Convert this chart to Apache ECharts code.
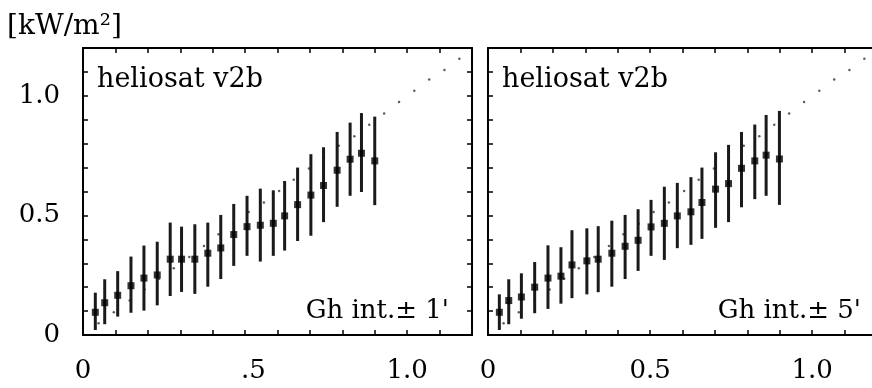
<!DOCTYPE html>
<html lang="en">
<head>
    <meta charset="UTF-8">
    <title>heliosat v2b</title>
    <style>
        html,
        body {
            margin: 0;
            padding: 0;
            background: #fff;
        }

        #chart {
            width: 872px;
            height: 388px;
        }
    </style>
</head>
<body>
<div id="chart"></div>
<script src="https://cdn.jsdelivr.net/npm/echarts@6/dist/echarts.min.js"></script>
<script>
    // reference points (dotted diagonal), same in both panels
    const refX = [0.048, 0.095, 0.144, 0.19, 0.235, 0.28, 0.328, 0.373, 0.418, 0.465, 0.511, 0.558, 0.605,
        0.65, 0.697, 0.743, 0.789, 0.837, 0.883, 0.929, 0.975, 1.022, 1.068, 1.115, 1.161]
    const refY = [0.049, 0.095, 0.144, 0.19, 0.235, 0.279, 0.326, 0.372, 0.421, 0.465, 0.514, 0.554, 0.602,
        0.649, 0.696, 0.743, 0.791, 0.831, 0.879, 0.926, 0.974, 1.021, 1.068, 1.108, 1.155]

    // left panel: Gh int. +- 1'
    const leftX = [0.038, 0.067, 0.107, 0.148, 0.188, 0.229, 0.269, 0.304, 0.345, 0.385, 0.425, 0.465,
        0.506, 0.547, 0.587, 0.622, 0.662, 0.703, 0.742, 0.784, 0.824, 0.859, 0.9]
    const leftMean = [0.095, 0.135, 0.166, 0.206, 0.238, 0.251, 0.317, 0.317, 0.317, 0.342, 0.364, 0.42,
        0.453, 0.459, 0.467, 0.498, 0.545, 0.585, 0.625, 0.689, 0.735, 0.76, 0.728]
    const leftHigh = [0.177, 0.233, 0.267, 0.328, 0.374, 0.39, 0.47, 0.453, 0.463, 0.47, 0.502, 0.548,
        0.582, 0.612, 0.605, 0.644, 0.7, 0.756, 0.785, 0.849, 0.888, 0.928, 0.913]
    const leftLow = [0.021, 0.045, 0.077, 0.093, 0.102, 0.124, 0.163, 0.18, 0.172, 0.202, 0.234, 0.289,
        0.331, 0.307, 0.331, 0.353, 0.393, 0.415, 0.472, 0.536, 0.582, 0.598, 0.543]

    // right panel: Gh int. +- 5'
    const rightX = [0.035, 0.064, 0.103, 0.144, 0.185, 0.225, 0.259, 0.305, 0.34, 0.382, 0.423, 0.463,
        0.503, 0.544, 0.584, 0.626, 0.66, 0.702, 0.742, 0.782, 0.823, 0.858, 0.899]
    const rightMean = [0.095, 0.144, 0.159, 0.2, 0.238, 0.246, 0.293, 0.31, 0.317, 0.342, 0.371, 0.396,
        0.452, 0.467, 0.498, 0.515, 0.554, 0.61, 0.633, 0.697, 0.728, 0.752, 0.736]
    const rightHigh = [0.17, 0.233, 0.258, 0.305, 0.375, 0.367, 0.438, 0.446, 0.455, 0.478, 0.502, 0.526,
        0.565, 0.62, 0.636, 0.66, 0.7, 0.764, 0.795, 0.849, 0.88, 0.92, 0.937]
    const rightLow = [0.021, 0.045, 0.068, 0.091, 0.109, 0.131, 0.154, 0.17, 0.179, 0.202, 0.234, 0.268,
        0.331, 0.314, 0.363, 0.377, 0.402, 0.448, 0.472, 0.534, 0.568, 0.582, 0.544]

    // tick labels
    const labelValues = [0, 0.5, 1.0]
    const yLabels = ['0', '0.5', '1.0']
    const leftXLabels = ['0', '{h|0}.5', '1.0']
    const rightXLabels = ['0', '0.5', '1.0']

    const FONT = 'DejaVu Serif'
    const INK = '#000'

    function pickLabel(texts) {
        return value => {
            const i = labelValues.findIndex(v => Math.abs(v - value) < 1e-6)
            return i >= 0 ? texts[i] : ''
        }
    }

    function frameAxis(extra) {
        return Object.assign({
            type: 'value',
            min: 0,
            max: 1.2,
            interval: 0.1,
            splitLine: { show: false },
            axisLine: { show: true, onZero: false, lineStyle: { color: INK, width: 2 } },
            axisTick: { show: true, inside: true, length: 5, lineStyle: { color: INK, width: 1.5 } },
            axisLabel: { show: false }
        }, extra)
    }

    function tickLabel(texts, margin) {
        return {
            show: true,
            margin,
            color: INK,
            fontFamily: FONT,
            fontSize: 26,
            formatter: pickLabel(texts),
            rich: { h: { color: 'transparent', fontFamily: FONT, fontSize: 26 } }
        }
    }

    function errorBars(xs, lows, highs, axisIdx) {
        return {
            type: 'custom',
            xAxisIndex: axisIdx,
            yAxisIndex: axisIdx,
            z: 3,
            data: xs.map((x, i) => [x, lows[i], highs[i]]),
            encode: { x: 0, y: [1, 2] },
            renderItem: (params, api) => {
                const p1 = api.coord([api.value(0), api.value(1)])
                const p2 = api.coord([api.value(0), api.value(2)])
                return {
                    type: 'line',
                    shape: { x1: p1[0], y1: p1[1], x2: p2[0], y2: p2[1] },
                    style: { stroke: '#1a1a1a', lineWidth: 3 }
                }
            }
        }
    }

    function means(xs, ys, axisIdx) {
        return {
            type: 'scatter',
            xAxisIndex: axisIdx,
            yAxisIndex: axisIdx,
            z: 4,
            symbol: 'rect',
            symbolSize: 7,
            itemStyle: { color: INK },
            data: xs.map((x, i) => [x, ys[i]])
        }
    }

    function refDots(axisIdx) {
        return {
            type: 'scatter',
            xAxisIndex: axisIdx,
            yAxisIndex: axisIdx,
            z: 2,
            symbol: 'circle',
            symbolSize: 2.5,
            itemStyle: { color: '#333' },
            data: refX.map((x, i) => [x, refY[i]])
        }
    }

    function panelText(text, x, y, align, size) {
        return {
            type: 'text',
            x, y,
            style: {
                text,
                fill: INK,
                font: size + 'px "' + FONT + '"',
                align,
                verticalAlign: 'middle'
            }
        }
    }

    const chart = echarts.init(document.getElementById('chart'))

    chart.setOption({
        animation: false,
        grid: [
            { left: 83, top: 48, width: 389, height: 287, outerBoundsMode: 'none' },
            { left: 488, top: 48, width: 389, height: 287, outerBoundsMode: 'none' }
        ],
        xAxis: [
            frameAxis({ gridIndex: 0, position: 'bottom', axisLabel: tickLabel(leftXLabels, 23) }),
            frameAxis({ gridIndex: 0, position: 'top' }),
            frameAxis({ gridIndex: 1, position: 'bottom', axisLabel: tickLabel(rightXLabels, 23) }),
            frameAxis({ gridIndex: 1, position: 'top' })
        ],
        yAxis: [
            frameAxis({ gridIndex: 0, position: 'left', axisLabel: tickLabel(yLabels, 23) }),
            frameAxis({ gridIndex: 0, position: 'right' }),
            frameAxis({ gridIndex: 1, position: 'left' }),
            frameAxis({ gridIndex: 1, position: 'right' })
        ],
        graphic: [
            panelText('[kW/m\u00b2]', 7, 27, 'left', 28),
            panelText('heliosat v2b', 97, 80, 'left', 27),
            panelText('heliosat v2b', 502, 80, 'left', 27),
            panelText('Gh int.\u00b1 1\'', 449, 311, 'right', 26),
            panelText('Gh int.\u00b1 5\'', 861, 311, 'right', 26)
        ],
        series: [
            refDots(0),
            errorBars(leftX, leftLow, leftHigh, 0),
            means(leftX, leftMean, 0),
            refDots(2),
            errorBars(rightX, rightLow, rightHigh, 2),
            means(rightX, rightMean, 2)
        ]
    })
</script>
</body>
</html>
